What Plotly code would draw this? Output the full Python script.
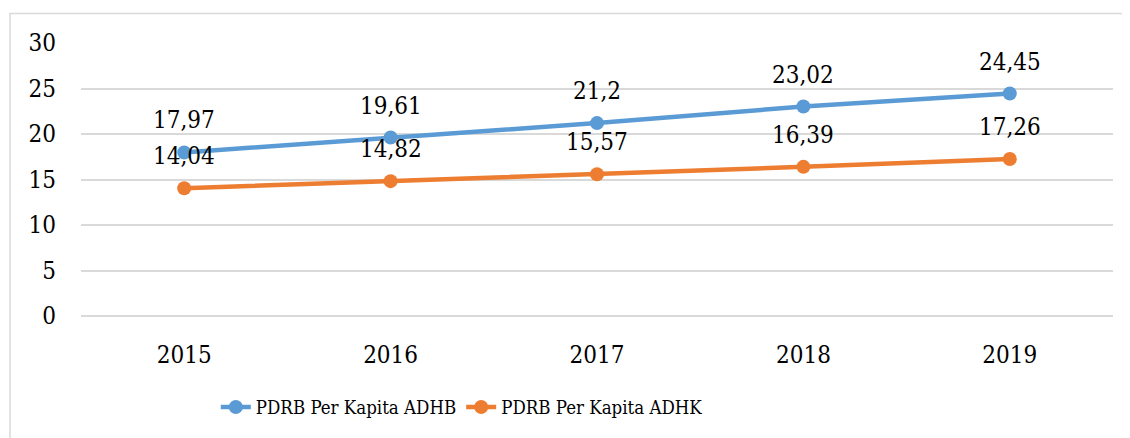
import plotly.graph_objects as go

years = ["2015", "2016", "2017", "2018", "2019"]
adhb = [17.97, 19.61, 21.2, 23.02, 24.45]
adhk = [14.04, 14.82, 15.57, 16.39, 17.26]
names = ["PDRB Per Kapita ADHB", "PDRB Per Kapita ADHK"]
colors = ["#5B9BD5", "#ED7D31"]

FONT = "DejaVu Serif Condensed"

def fmt(v):
    return ("%g" % v).replace(".", ",")

fig = go.Figure()
annotations = []
for vals, name, col in zip([adhb, adhk], names, colors):
    fig.add_trace(go.Scatter(
        x=years, y=vals, name=name, mode="lines+markers",
        line=dict(color=col, width=4.5),
        marker=dict(color=col, size=14),
        cliponaxis=False,
    ))
    for i, v in enumerate(vals):
        annotations.append(dict(x=i, y=v, xref="x", yref="y", text=fmt(v),
                                showarrow=False, yanchor="middle", yshift=32,
                                font=dict(family=FONT, size=24, color="#000000")))

# page body has an 8px margin; figure occupies the rest of the 1130x438 window
W, H = 1122, 430
ml, mr, mt, mb = 73, 17, 35, 117
pw, ph = W - ml - mr, H - mt - mb

fig.update_layout(
    width=W, height=H,
    margin=dict(l=ml, r=mr, t=mt, b=mb),
    paper_bgcolor="white", plot_bgcolor="white",
    font=dict(family=FONT, size=24, color="#000000"),
    showlegend=True,
    annotations=annotations,
    legend=dict(orientation="h", x=0.369, xanchor="center", y=-0.335, yanchor="middle",
                font=dict(family=FONT, size=18.5), itemwidth=30, tracegroupgap=0),
    xaxis=dict(type="category", range=[-0.5, 4.5], showgrid=False, zeroline=False,
               showline=False, ticks="", ticklabelstandoff=22,
               tickfont=dict(family=FONT, size=24)),
    yaxis=dict(range=[0, 30], dtick=5, showgrid=True, gridcolor="#d9d9d9", gridwidth=1.5,
               zeroline=True, zerolinecolor="#d9d9d9", zerolinewidth=1.5,
               showline=False, ticks="", ticklabelstandoff=24,
               tickfont=dict(family=FONT, size=24)),
    shapes=[dict(type="rect", xref="paper", yref="paper",
                 x0=(2 - ml) / pw, x1=(1140 - ml) / pw,
                 y0=(H - mb - 448) / ph, y1=(H - mb - 5) / ph,
                 line=dict(color="#d9d9d9", width=1.5), fillcolor="rgba(0,0,0,0)", layer="below")],
)

fig.write_html("out.html")
